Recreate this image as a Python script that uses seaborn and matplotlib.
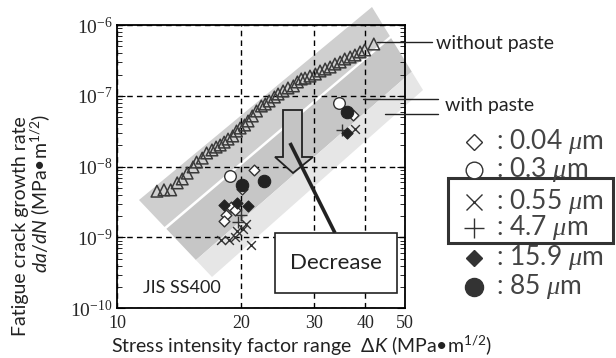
import numpy as np
import pandas as pd
import matplotlib
matplotlib.use("Agg")
import matplotlib.pyplot as plt
import seaborn as sns
from matplotlib.patches import Polygon, Rectangle
from matplotlib.lines import Line2D
from matplotlib.ticker import LogLocator, FixedLocator, NullLocator, FixedFormatter, LogFormatterSciNotation, NullFormatter

# ---------------- data ----------------
tri_K = [12.5, 13.0, 13.5, 14.0, 14.4, 14.8, 15.3, 15.6, 16.1, 16.5, 17.0, 17.4,
         17.8, 18.2, 18.6, 19.1, 19.5, 19.9, 20.4, 20.8, 21.3, 21.8, 22.4, 22.9,
         23.4, 24.1, 24.6, 25.3, 26.0, 26.8, 27.4, 28.0, 28.6, 29.4, 30.3, 31.1,
         32.0, 32.9, 33.8, 34.8, 35.7, 36.8, 37.8, 38.9, 39.9, 42.0]
tri_rate = [4.5e-9, 4.7e-9, 4.7e-9, 5.9e-9, 6.7e-9, 8.1e-9, 9.9e-9, 1.16e-8, 1.32e-8, 1.56e-8, 1.72e-8, 1.89e-8,
            2.02e-8, 2.22e-8, 2.45e-8, 2.71e-8, 3.18e-8, 3.51e-8, 3.87e-8, 4.41e-8, 5.19e-8, 6.10e-8, 7.18e-8, 7.66e-8,
            8.45e-8, 9.62e-8, 1.06e-7, 1.17e-7, 1.29e-7, 1.38e-7, 1.57e-7, 1.73e-7, 1.78e-7, 1.90e-7, 2.03e-7, 2.24e-7,
            2.39e-7, 2.55e-7, 2.81e-7, 3.00e-7, 3.31e-7, 3.53e-7, 3.77e-7, 4.16e-7, 4.44e-7, 5.39e-7]

d004_K = [21.5, 20.1, 18.9, 19.3, 18.4, 18.2, 37.4]
d004_rate = [8.95e-9, 4.8e-9, 2.72e-9, 2.44e-9, 2.07e-9, 1.71e-9, 5.36e-8]

c03_K = [18.8, 34.6]
c03_rate = [7.4e-9, 8.0e-8]

x055_K = [17.9, 18.75, 19.3, 19.6, 20.2, 20.6, 21.15, 37.8]
x055_rate = [9.2e-10, 9.2e-10, 1.01e-9, 1.23e-9, 1.31e-9, 1.55e-9, 7.8e-10, 3.36e-8]

p47_K = [20.0, 19.7, 35.2]
p47_rate = [2.07e-9, 1.65e-9, 3.29e-8]

fd159_K = [18.2, 19.5, 20.8, 36.2]
fd159_rate = [2.87e-9, 3.09e-9, 2.78e-9, 2.95e-8]

fc85_K = [20.1, 22.7, 36.2]
fc85_rate = [5.5e-9, 6.26e-9, 5.96e-8]

x_ticks = [10, 20, 30, 40, 50]
x_ticklabels = ["10", "20", "30", "40", "50"]
legend_labels = ["0.04", "0.3", "0.55", "4.7", "15.9", "85"]

# ---------------- style ----------------
sns.set_style("white")
plt.rcParams["font.family"] = ["Lato", "Noto Sans CJK JP", "DejaVu Sans"]
plt.rcParams["mathtext.fontset"] = "custom"
plt.rcParams["mathtext.rm"] = "Lato"
plt.rcParams["mathtext.it"] = "Lato:italic"
plt.rcParams["mathtext.sf"] = "Liberation Serif:italic"

W, H = 616, 358
fig = plt.figure(figsize=(W / 100, H / 100), dpi=100)
AX_L, AX_R, AX_T, AX_B = 117, 405, 25, 308.3
ax = fig.add_axes([AX_L / W, 1 - AX_B / H, (AX_R - AX_L) / W, (AX_B - AX_T) / H])

def fxy(px, py):
    return (px / W, 1 - py / H)

def axy(px, py):
    return ((px - AX_L) / (AX_R - AX_L), (AX_B - py) / (AX_B - AX_T))

ink = "#333333"

# ---------------- series ----------------
sns.scatterplot(x=tri_K, y=tri_rate, ax=ax, marker="^", s=70, facecolor="none",
                edgecolor="#3a3a3a", linewidth=1.1, zorder=4)
sns.scatterplot(x=d004_K, y=d004_rate, ax=ax, marker="D", s=30, facecolor="white",
                edgecolor=ink, linewidth=1.0, zorder=4)
sns.scatterplot(x=c03_K, y=c03_rate, ax=ax, marker="o", s=70, facecolor="white",
                edgecolor=ink, linewidth=1.0, zorder=4)
sns.scatterplot(x=x055_K, y=x055_rate, ax=ax, marker="x", s=40, color=ink,
                linewidth=1.0, zorder=4)
sns.scatterplot(x=p47_K, y=p47_rate, ax=ax, marker="+", s=70, color=ink,
                linewidth=1.0, zorder=4)
sns.scatterplot(x=fd159_K, y=fd159_rate, ax=ax, marker="D", s=32, color="#222222",
                edgecolor="#222222", linewidth=0.8, zorder=5)
sns.scatterplot(x=fc85_K, y=fc85_rate, ax=ax, marker="o", s=80, color="#222222",
                edgecolor="#222222", linewidth=0.8, zorder=5)

ax.set_xscale("log")
ax.set_yscale("log")
ax.set_xlim(10, 50)
ax.set_ylim(1e-10, 1e-6)

ax.xaxis.set_major_locator(FixedLocator(x_ticks))
ax.xaxis.set_major_formatter(FixedFormatter(x_ticklabels))
ax.xaxis.set_minor_locator(NullLocator())
ax.xaxis.set_minor_formatter(NullFormatter())
ax.yaxis.set_major_locator(LogLocator(base=10, numticks=10))
ax.yaxis.set_major_formatter(LogFormatterSciNotation())
ax.yaxis.set_minor_locator(LogLocator(base=10, subs=np.arange(2, 10), numticks=20))
ax.yaxis.set_minor_formatter(NullFormatter())

ax.tick_params(axis="both", which="major", direction="in",
               labelfontfamily="Liberation Serif", color="k", pad=3)
ax.tick_params(axis="x", which="major", labelsize=13, length=0, pad=5)
ax.tick_params(axis="y", which="major", labelsize=14, length=6, width=0.8, left=True, right=True)
ax.tick_params(axis="y", which="minor", direction="in", length=3.5, width=0.7, left=True, right=True)

ax.grid(True, which="major", color="k", linestyle=(0, (4, 3)), linewidth=1.0)
for s in ax.spines.values():
    s.set_color("k")
    s.set_linewidth(1.3)
ax.set_xlabel("")
ax.set_ylabel("")

# ---------------- bands ----------------
L0, L1, R0, R1 = (139, 200), (212, 277), (372, 7), (423, 90)
def edge(P, Q, t):
    return (P[0] + (Q[0] - P[0]) * t, P[1] + (Q[1] - P[1]) * t)
bands = [(0.0, 0.35, "#cfcfcf"), (0.375, 0.78, "#c6c6c6"), (0.78, 1.0, "#e6e6e6")]
for t0, t1, c in bands:
    pts = [edge(L0, L1, t0), edge(R0, R1, t0), edge(R0, R1, t1), edge(L0, L1, t1)]
    ax.add_patch(Polygon([axy(*p) for p in pts], closed=True, transform=ax.transAxes,
                         facecolor=c, edgecolor="none", clip_on=False, zorder=0.3))

# ---------------- arrow / decrease box ----------------
arrow = [(283, 110), (302, 110), (302, 157), (313, 157), (293, 173), (275, 157), (283, 157)]
ax.add_patch(Polygon([axy(*p) for p in arrow], closed=True, transform=ax.transAxes,
                     facecolor="#c4c4c4", edgecolor="#222222", linewidth=1.3, zorder=6))
ax.add_line(Line2D([axy(290, 143)[0], axy(335, 233)[0]], [axy(290, 143)[1], axy(335, 233)[1]],
                   transform=ax.transAxes, color="#222222", linewidth=2.6, zorder=7,
                   solid_capstyle="butt"))
x0, y0 = axy(275, 293)
x1, y1 = axy(397, 233)
ax.add_patch(Rectangle((x0, y0), x1 - x0, y1 - y0, transform=ax.transAxes,
                       facecolor="white", edgecolor="#222222", linewidth=1.2, zorder=8))
ax.text(*axy(336, 263), "Decrease", transform=ax.transAxes, ha="center", va="center",
        fontsize=16, color="#222222", zorder=9)
ax.text(*axy(143, 288), "JIS SS400", transform=ax.transAxes, ha="left", va="center",
        fontsize=13, color="#222222", zorder=9)

# ---------------- axis labels ----------------
fig.text(*fxy(302, 345.5), r"Stress intensity factor range  $\Delta\mathit{K}$ (MPa•m$^{1/2}$)",
         ha="center", va="center", fontsize=14, color="#222222")
fig.text(*fxy(21, 226), "Fatigue crack growth rate", rotation=90,
         ha="center", va="center", fontsize=14, color="#222222")
fig.text(*fxy(40, 193), r"$\mathit{da/dN}$ (MPa•m$^{1/2}$)", rotation=90,
         ha="center", va="center", fontsize=14, color="#222222")

# ---------------- side annotations ----------------
for (xa, xb, yy) in [(377, 432, 42), (363, 438, 99.3), (385, 438, 114)]:
    fig.add_artist(Line2D([xa / W, xb / W], [1 - yy / H, 1 - yy / H], color="#222222", linewidth=1.0))
fig.text(*fxy(436, 43), "without paste", ha="left", va="center", fontsize=14, color="#222222")
fig.text(*fxy(445, 106), "with paste", ha="left", va="center", fontsize=14, color="#222222")

# ---------------- legend ----------------
rows_y = [141.7, 170, 201.7, 228, 258, 286.7]
styles = [dict(marker="D", ms=8.5, mfc="white", mec=ink, mew=1.0),
          dict(marker="o", ms=12, mfc="white", mec=ink, mew=1.0),
          dict(marker="x", ms=12, color=ink, mew=1.0),
          dict(marker="+", ms=15, color=ink, mew=1.0),
          dict(marker="D", ms=8.5, mfc="#333333", mec="#333333"),
          dict(marker="o", ms=13, mfc="#333333", mec="#333333")]
for yy, st, lab in zip(rows_y, styles, legend_labels):
    fig.add_artist(Line2D([474 / W], [1 - yy / H], linestyle="none", **st))
    fig.text(496 / W, 1 - yy / H, ": " + lab + r" $\mathsf{\mu}$m", ha="left", va="center",
             fontsize=19, color="#444444")
bx0, by0 = fxy(448, 243)
bx1, by1 = fxy(613, 178)
fig.add_artist(Rectangle((bx0, by0), bx1 - bx0, by1 - by0, transform=fig.transFigure,
                         facecolor="none", edgecolor="#333333", linewidth=2.2))

fig.savefig("out.png", dpi=100)
